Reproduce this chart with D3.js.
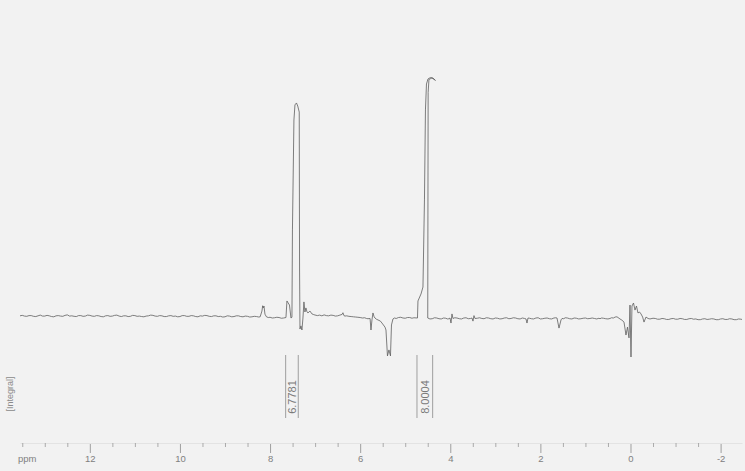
<!DOCTYPE html>
<html><head><meta charset="utf-8">
<script src="https://cdn.jsdelivr.net/npm/d3@7"></script>
<style>html,body{margin:0;padding:0;background:#f2f2f2;} svg{display:block;}</style>
</head><body>
<svg id="chart" width="745" height="471"></svg>
<script>
// ---- data ----
const ppmDomain = [13.55, -2.475];
const majorTicks = [12, 10, 8, 6, 4, 2, 0, -2];
const minorTicks = [13.5, 13, 12.5, 11.5, 11, 10.5, 9.5, 9, 8.5, 7.5, 7, 6.5, 5.5, 5, 4.5, 3.5, 3, 2.5, 1.5, 1, 0.5, -0.5, -1, -1.5];
// [ppm, intensity] in drawing order (intensity: tallest peak = 100)
const spectrum = [
  [13.55,0.9],[13.5,1.1],[13.45,0.8],[13.4,0.7],[13.35,1.0],[13.3,1.0],[13.25,0.7],[13.2,0.6],[13.15,0.9],[13.1,1.2],[13.05,0.8],[13.0,0.8],
  [12.95,1.1],[12.9,0.9],[12.85,0.6],[12.8,0.5],[12.75,0.9],[12.7,1.0],[12.65,0.8],[12.6,0.7],[12.55,1.1],[12.5,1.3],[12.45,0.8],[12.4,0.9],
  [12.35,0.7],[12.3,0.6],[12.25,1.0],[12.2,1.0],[12.15,0.7],[12.1,0.8],[12.05,1.2],[12.0,1.1],[11.95,0.8],[11.9,0.7],[11.85,1.0],[11.8,0.9],
  [11.75,0.6],[11.7,0.5],[11.65,0.9],[11.6,1.0],[11.55,0.7],[11.5,0.8],[11.45,1.1],[11.4,1.2],[11.35,0.8],[11.3,0.6],[11.25,0.9],[11.2,0.9],
  [11.15,0.6],[11.1,0.7],[11.05,1.1],[11.0,1.0],[10.95,0.7],[10.9,0.8],[10.85,0.6],[10.8,0.5],[10.75,0.8],[10.7,0.9],[10.65,1.2],[10.6,1.1],
  [10.55,0.8],[10.5,0.7],[10.45,1.0],[10.4,0.9],[10.35,0.6],[10.3,0.6],[10.25,0.9],[10.2,1.0],[10.15,0.7],[10.1,0.8],[10.05,0.5],[10.0,0.6],
  [9.95,1.0],[9.9,1.0],[9.85,0.7],[9.8,0.7],[9.75,1.0],[9.7,0.9],[9.65,0.6],[9.6,0.5],[9.55,0.9],[9.5,0.8],[9.45,1.1],[9.4,1.0],
  [9.35,0.7],[9.3,0.6],[9.25,0.9],[9.2,0.9],[9.15,0.6],[9.1,0.7],[9.05,0.4],[9.0,0.5],[8.95,0.9],[8.9,0.8],[8.85,0.5],[8.8,0.6],
  [8.75,0.9],[8.7,0.9],[8.65,0.6],[8.6,0.5],[8.55,0.8],[8.5,0.7],[8.45,0.4],[8.4,0.5],[8.35,0.7],[8.3,0.6],[8.25,0.4],[8.22,0.5],
  [8.18,2.9],[8.164,5.1],[8.151,4.2],[8.135,5.0],[8.113,1.6],[8.08,0.5],[8.04,0.2],[8.0,0.3],[7.95,0.0],[7.9,0.1],[7.85,0.3],[7.8,0.2],
  [7.75,-0.1],[7.7,0.0],[7.647,0.2],[7.625,7.1],[7.569,5.4],[7.536,0.0],[7.514,0.3],[7.503,36.7],[7.470,82.5],[7.447,88.8],[7.414,89.6],
  [7.385,88.3],[7.352,85.8],[7.345,20.0],[7.336,-4.6],[7.314,-3.3],[7.292,-5.0],[7.270,0.0],[7.248,6.7],[7.226,2.5],[7.204,4.2],[7.18,2.6],[7.159,2.1],
  [7.115,2.9],[7.070,1.7],[7.03,1.4],[7.003,1.25],[6.95,1.0],[6.9,1.2],[6.85,0.9],[6.8,1.3],[6.75,1.0],[6.7,0.9],[6.65,1.2],[6.6,1.1],
  [6.55,0.8],[6.5,0.9],[6.45,1.2],[6.40,1.5],[6.382,2.2],[6.36,1.0],[6.337,0.8],[6.3,0.9],[6.25,0.7],[6.2,0.6],[6.15,0.5],[6.1,0.4],
  [6.05,0.3],[6.0,0.2],[5.95,0.0],[5.9,0.1],[5.86,-0.2],[5.827,-0.3],[5.78,-0.2],[5.760,-5.0],[5.738,-0.8],[5.716,2.1],[5.69,0.5],
  [5.671,0.0],[5.64,-0.5],[5.605,-0.8],[5.55,-1.3],[5.516,-2.1],[5.449,-3.8],[5.427,-5.0],[5.394,-15.8],[5.361,-13.3],[5.327,-15.8],
  [5.305,-2.9],[5.272,-0.4],[5.24,0.0],[5.2,-0.2],[5.15,0.2],[5.1,0.3],[5.05,0.0],[5.0,-0.1],[4.95,0.2],[4.9,0.2],[4.85,-0.1],
  [4.83,0.0],[4.806,0.1],[4.728,0.0],[4.717,7.1],[4.650,10.0],[4.606,12.9],[4.573,49.2],[4.551,86.7],[4.528,97.5],[4.495,99.6],
  [4.440,100.2],[4.384,100.0],[4.329,99.0],[4.407,100.0],[4.473,99.4],[4.491,94.0],[4.500,0.0],[4.451,-0.4],[4.40,-0.3],[4.35,0.1],
  [4.30,0.0],[4.25,-0.3],[4.2,-0.4],[4.15,0.0],[4.1,-0.1],[4.06,-0.4],[4.03,-0.3],[4.006,0.0],[3.984,-2.1],[3.962,1.7],[3.940,-0.2],
  [3.9,0.1],[3.85,0.0],[3.8,-0.3],[3.75,-0.4],[3.7,0.0],[3.65,0.1],[3.6,-0.3],[3.55,-0.2],[3.518,0.0],[3.496,-1.3],[3.474,1.0],
  [3.452,-0.2],[3.4,-0.1],[3.35,0.1],[3.3,-0.2],[3.25,-0.3],[3.2,0.1],[3.15,0.0],[3.1,-0.3],[3.05,-0.4],[3.0,0.0],[2.95,-0.1],
  [2.9,-0.4],[2.85,-0.3],[2.8,0.0],[2.75,0.1],[2.7,-0.3],[2.65,-0.2],[2.6,0.1],[2.55,0.0],[2.5,-0.3],[2.45,-0.4],[2.4,0.0],
  [2.35,-0.2],[2.319,-0.4],[2.297,-2.1],[2.275,0.0],[2.24,-0.1],[2.2,-0.3],[2.15,-0.4],[2.1,0.0],[2.05,0.1],[2.0,-0.4],[1.95,-0.3],
  [1.9,-0.1],[1.85,0.0],[1.8,-0.3],[1.75,-0.4],[1.7,0.0],[1.66,0.1],[1.631,0.0],[1.587,-4.2],[1.542,-0.8],[1.520,-0.2],[1.48,-0.3],
  [1.45,0.1],[1.4,0.0],[1.35,-0.3],[1.3,-0.4],[1.25,0.0],[1.2,-0.1],[1.15,-0.4],[1.1,-0.3],[1.05,-0.1],[1.0,0.0],[0.95,-0.3],
  [0.9,-0.2],[0.85,0.0],[0.8,-0.2],[0.75,-0.4],[0.7,-0.1],[0.677,-0.3],[0.64,0.0],[0.6,-0.1],[0.55,-0.3],[0.5,-0.4],[0.455,-0.2],
  [0.42,0.1],[0.38,0.0],[0.34,0.4],[0.300,0.5],[0.233,-0.4],[0.19,-0.9],[0.144,-1.7],[0.100,-7.1],[0.067,-3.8],[0.033,-8.3],
  [0.011,5.4],[-0.011,-16.25],[-0.033,5.0],[-0.067,6.25],[-0.100,3.3],[-0.133,5.0],[-0.166,2.1],[-0.2,2.5],[-0.233,1.7],[-0.27,0.4],
  [-0.300,-1.7],[-0.344,0.4],[-0.39,-0.2],[-0.433,-0.4],[-0.5,-0.1],[-0.55,-0.2],[-0.6,-0.5],[-0.65,-0.5],[-0.7,-0.2],[-0.75,-0.3],
  [-0.8,-0.6],[-0.85,-0.6],[-0.9,-0.3],[-0.95,-0.2],[-1.0,-0.5],[-1.05,-0.5],[-1.1,-0.2],[-1.15,-0.3],[-1.2,-0.6],[-1.25,-0.6],
  [-1.3,-0.3],[-1.35,-0.2],[-1.4,-0.5],[-1.45,-0.4],[-1.5,-0.7],[-1.55,-0.7],[-1.6,-0.4],[-1.65,-0.3],[-1.7,-0.6],[-1.75,-0.5],
  [-1.8,-0.3],[-1.85,-0.4],[-1.9,-0.7],[-1.95,-0.7],[-2.0,-0.4],[-2.05,-0.3],[-2.1,-0.6],[-2.15,-0.6],[-2.2,-0.3],[-2.25,-0.4],
  [-2.3,-0.7],[-2.35,-0.7],[-2.4,-0.4],[-2.45,-0.5],[-2.475,-0.6]
];
const integralRanges = [[7.654, 7.374], [4.739, 4.391]];
const integralValues = ["6.7781", "8.0004"];
const axisTitle = "ppm";
const integralTitle = "[Integral]";

// ---- drawing ----
const svg = d3.select("#chart");
const x = d3.scaleLinear().domain(ppmDomain).range([20, 742]);
const y = d3.scaleLinear().domain([0, 100]).range([318, 78]);

svg.append("rect").attr("width", 745).attr("height", 471).attr("fill", "#f2f2f2");

// spectrum
svg.append("path")
  .datum(spectrum)
  .attr("fill", "none")
  .attr("stroke", "#5e5e5e")
  .attr("stroke-width", 0.8)
  .attr("stroke-linejoin", "round")
  .attr("d", d3.line().x(d => x(d[0])).y(d => y(d[1])));

// integral brackets
const ig = svg.append("g");
integralRanges.forEach((r, i) => {
  r.forEach(p => {
    ig.append("line")
      .attr("x1", x(p)).attr("x2", x(p))
      .attr("y1", 355).attr("y2", 418)
      .attr("stroke", "#8a8a8a").attr("stroke-width", 0.8);
  });
  const cx = (x(r[0]) + x(r[1])) / 2;
  ig.append("text")
    .attr("transform", `translate(${cx + 4},397) rotate(-90)`)
    .attr("text-anchor", "middle")
    .attr("font-family", "Liberation Sans, Arial, sans-serif")
    .attr("font-size", 11)
    .attr("fill", "#7a7a7a")
    .text(integralValues[i]);
});
svg.append("text")
  .attr("transform", "translate(13,394) rotate(-90)")
  .attr("text-anchor", "middle")
  .attr("font-family", "Liberation Sans, Arial, sans-serif")
  .attr("font-size", 9)
  .attr("fill", "#8a8a8a")
  .text(integralTitle);

// axis: minor ticks
const minorAxis = d3.axisBottom(x).tickValues(minorTicks).tickSize(4).tickSizeOuter(0).tickFormat("");
const gMinor = svg.append("g").attr("transform", "translate(0,443)").call(minorAxis);
gMinor.select(".domain").attr("stroke", "#d8d8d8").attr("stroke-width", 0.6);
gMinor.selectAll(".tick line").attr("stroke", "#999").attr("stroke-width", 0.8);

// axis: major ticks with labels
const majorAxis = d3.axisBottom(x).tickValues(majorTicks).tickSize(9).tickSizeOuter(0).tickPadding(2.5)
  .tickFormat(d => String(d));
const gMajor = svg.append("g").attr("transform", "translate(0,444)").call(majorAxis);
gMajor.select(".domain").remove();
gMajor.selectAll(".tick line").attr("stroke", "#8a8a8a").attr("stroke-width", 0.8);
gMajor.selectAll(".tick text")
  .attr("font-family", "Liberation Sans, Arial, sans-serif")
  .attr("font-size", 9.5)
  .attr("fill", "#808080");

svg.append("text")
  .attr("x", 18).attr("y", 462)
  .attr("font-family", "Liberation Sans, Arial, sans-serif")
  .attr("font-size", 9.5)
  .attr("fill", "#808080")
  .text(axisTitle);
</script>
</body></html>
